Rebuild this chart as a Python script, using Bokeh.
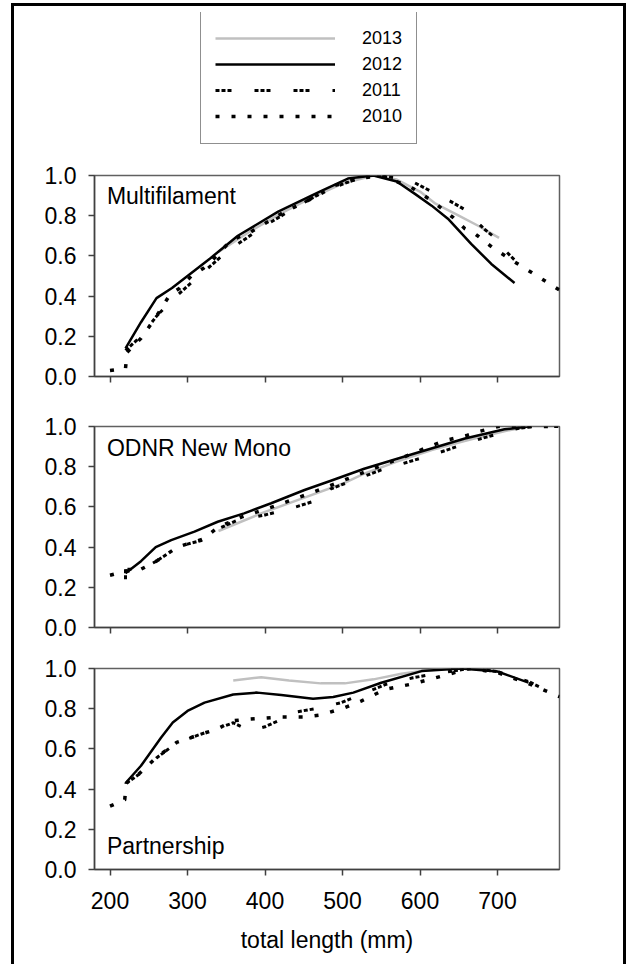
from bokeh.plotting import figure
from bokeh.models import (FixedTicker, NumeralTickFormatter, Label, Legend, LegendItem,
                          Range1d, Spacer)
from bokeh.layouts import column, row
from bokeh.embed import file_html
from bokeh.resources import INLINE

FONT = "Liberation Sans"

YEARS = ["2013", "2012", "2011", "2010"]
PANEL_NAMES = ["Multifilament", "ODNR New Mono", "Partnership"]
X_TICKS = [200, 300, 400, 500, 600, 700]
Y_TICKS = [0.0, 0.2, 0.4, 0.6, 0.8, 1.0]
X_TITLE = "total length (mm)"

# ---- Multifilament ----
MULTI_2013_X = [340, 380, 420, 460, 500, 540, 570, 600, 620, 650, 675, 702]
MULTI_2013_Y = [0.62, 0.72, 0.81, 0.89, 0.96, 1.0, 0.98, 0.92, 0.86, 0.80, 0.75, 0.69]
MULTI_2012_X = [220, 240, 260, 280, 300, 330, 365, 417, 468, 507, 540, 570, 593, 615, 636, 666, 692, 722]
MULTI_2012_Y = [0.14, 0.27, 0.39, 0.44, 0.50, 0.59, 0.70, 0.82, 0.915, 0.985, 1.0, 0.97, 0.91, 0.85, 0.785, 0.66, 0.56, 0.465]
MULTI_2011_X = [220, 240, 260, 280, 300, 343, 365, 404, 443, 481, 520, 545, 585, 615, 640, 658, 673, 684, 700, 709, 722]
MULTI_2011_Y = [0.13, 0.20, 0.30, 0.38, 0.45, 0.595, 0.66, 0.76, 0.85, 0.93, 0.985, 1.0, 0.98, 0.92, 0.87, 0.83, 0.77, 0.73, 0.68, 0.63, 0.58]
MULTI_2010_X = [200, 220, 222, 240, 260, 277, 290, 305, 320, 330, 356, 382, 421, 434, 468, 490, 520, 550, 589, 617, 643, 658, 671, 694, 722, 743, 780]
MULTI_2010_Y = [0.03, 0.04, 0.12, 0.19, 0.30, 0.405, 0.44, 0.50, 0.537, 0.57, 0.677, 0.72, 0.81, 0.835, 0.90, 0.95, 0.985, 1.0, 0.94, 0.87, 0.79, 0.735, 0.71, 0.64, 0.57, 0.52, 0.43]

# ---- ODNR New Mono ----
MONO_2013_X = [340, 400, 450, 500, 528, 570, 615, 650, 680, 710, 740]
MONO_2013_Y = [0.48, 0.575, 0.645, 0.715, 0.765, 0.825, 0.883, 0.92, 0.95, 0.978, 1.0]
MONO_2012_X = [220, 240, 259, 279, 309, 339, 373, 408, 451, 485, 528, 593, 658, 709, 740]
MONO_2012_Y = [0.27, 0.33, 0.40, 0.435, 0.477, 0.526, 0.568, 0.618, 0.684, 0.73, 0.79, 0.866, 0.94, 0.986, 1.0]
MONO_2011_X = [220, 220, 240, 260, 287, 300, 320, 339, 365, 400, 434, 468, 485, 550, 615, 679, 726, 745, 780]
MONO_2011_Y = [0.24, 0.29, 0.29, 0.33, 0.40, 0.415, 0.435, 0.49, 0.535, 0.56, 0.593, 0.634, 0.69, 0.784, 0.858, 0.94, 0.99, 1.0, 1.0]
MONO_2010_X = [200, 220, 240, 260, 287, 320, 340, 370, 417, 460, 500, 540, 580, 615, 632, 660, 675, 701, 780]
MONO_2010_Y = [0.26, 0.28, 0.29, 0.33, 0.40, 0.44, 0.50, 0.55, 0.61, 0.67, 0.73, 0.79, 0.85, 0.905, 0.93, 0.955, 0.974, 1.0, 1.0]

# ---- Partnership ----
PART_2013_X = [359, 395, 431, 472, 503, 540, 576, 607, 640]
PART_2013_Y = [0.94, 0.957, 0.94, 0.926, 0.926, 0.946, 0.974, 0.99, 1.0]
PART_2012_X = [221, 240, 266, 281, 300, 322, 359, 390, 421, 462, 488, 514, 550, 602, 653, 700, 740]
PART_2012_Y = [0.434, 0.516, 0.657, 0.731, 0.789, 0.83, 0.871, 0.88, 0.868, 0.85, 0.858, 0.88, 0.929, 0.987, 1.0, 0.985, 0.93]
PART_2011_X = [221, 240, 260, 286, 317, 338, 359, 380, 400, 420, 442, 472, 498, 524, 555, 591, 628, 664, 700, 740, 780]
PART_2011_Y = [0.43, 0.48, 0.555, 0.63, 0.673, 0.70, 0.73, 0.69, 0.71, 0.745, 0.785, 0.805, 0.83, 0.871, 0.92, 0.954, 0.979, 1.0, 0.985, 0.935, 0.86]
PART_2010_X = [200, 219, 221, 235, 260, 286, 317, 338, 359, 379, 421, 452, 472, 503, 524, 555, 591, 628, 664, 700, 740, 780]
PART_2010_Y = [0.315, 0.347, 0.43, 0.467, 0.558, 0.632, 0.673, 0.698, 0.74, 0.748, 0.759, 0.759, 0.769, 0.805, 0.838, 0.896, 0.924, 0.962, 1.0, 0.98, 0.925, 0.86]

PANELS = [
    {"2013": (MULTI_2013_X, MULTI_2013_Y), "2012": (MULTI_2012_X, MULTI_2012_Y),
     "2011": (MULTI_2011_X, MULTI_2011_Y), "2010": (MULTI_2010_X, MULTI_2010_Y)},
    {"2013": (MONO_2013_X, MONO_2013_Y), "2012": (MONO_2012_X, MONO_2012_Y),
     "2011": (MONO_2011_X, MONO_2011_Y), "2010": (MONO_2010_X, MONO_2010_Y)},
    {"2013": (PART_2013_X, PART_2013_Y), "2012": (PART_2012_X, PART_2012_Y),
     "2011": (PART_2011_X, PART_2011_Y), "2010": (PART_2010_X, PART_2010_Y)},
]

STYLE = {
    "2013": dict(line_color="#c0c0c0", line_width=2.5),
    "2012": dict(line_color="black", line_width=2.5),
    "2011": dict(line_color="black", line_width=3, line_dash="4 2 4 2 4 23"),
    "2010": dict(line_color="black", line_width=3.5, line_dash="4 12"),
}

W = 609
AXIS_COLOR = "#404040"
BORDERS = dict(min_border_left=80, min_border_right=64)


def style_axis(ax):
    ax.axis_line_color = AXIS_COLOR
    ax.axis_line_width = 1.5
    ax.major_tick_line_color = AXIS_COLOR
    ax.major_tick_line_width = 1.5
    ax.major_tick_in = 0
    ax.major_tick_out = 6
    ax.minor_tick_line_color = AXIS_COLOR
    ax.minor_tick_line_width = 1.5
    ax.minor_tick_in = 0
    ax.minor_tick_out = 6
    ax.major_label_text_font = FONT
    ax.major_label_text_font_size = "23px"
    ax.major_label_text_color = "black"
    ax.major_label_standoff = 12


def make_panel(idx, min_top, min_bottom, label_y, show_x_labels):
    height = min_top + 201 + min_bottom
    p = figure(width=W, height=height, x_range=Range1d(180, 780), y_range=Range1d(0, 1),
               output_backend="svg", toolbar_location=None,
               min_border_top=min_top, min_border_bottom=min_bottom, **BORDERS)
    p.grid.visible = False
    p.outline_line_color = "#606060"
    p.outline_line_width = 1.5
    p.background_fill_color = "white"
    p.border_fill_color = "white"
    for yr in YEARS:
        xs, ys = PANELS[idx][yr]
        p.line(xs, ys, line_join="round", **STYLE[yr])
    style_axis(p.xaxis[0])
    style_axis(p.yaxis[0])
    p.yaxis.ticker = FixedTicker(ticks=Y_TICKS, minor_ticks=[])
    p.yaxis.formatter = NumeralTickFormatter(format="0.0")
    if show_x_labels:
        p.xaxis.ticker = FixedTicker(ticks=X_TICKS, minor_ticks=[])
        p.xaxis.major_label_standoff = 16
        p.xaxis.axis_label = X_TITLE
        p.xaxis.axis_label_text_font = FONT
        p.xaxis.axis_label_text_font_size = "23px"
        p.xaxis.axis_label_text_font_style = "normal"
        p.xaxis.axis_label_text_color = "black"
        p.xaxis.axis_label_standoff = 15
    else:
        # ticks without labels: the tick positions are given as minor ticks
        p.xaxis.ticker = FixedTicker(ticks=[], minor_ticks=X_TICKS)
    p.add_layout(Label(x=196, y=label_y, text=PANEL_NAMES[idx], text_font=FONT,
                       text_font_size="23px", text_baseline="middle", text_color="black"))
    return p


# ---- legend figure (frame aligned with panels; its lines fall outside the visible y range) ----
leg = figure(width=W, height=150, x_range=Range1d(180, 780), y_range=Range1d(10, 11),
             output_backend="svg", toolbar_location=None,
             x_axis_type=None, y_axis_type=None,
             min_border_top=6, min_border_bottom=6, **BORDERS)
leg.grid.visible = False
leg.outline_line_color = None
items = []
for yr in YEARS:
    xs, ys = PANELS[0][yr]
    r = leg.line(xs, ys, **STYLE[yr])
    items.append(LegendItem(label=yr, renderers=[r]))
legend = Legend(items=items, location=(106, 6), margin=0, padding=14,
                glyph_width=120, glyph_height=26, spacing=0, label_standoff=27,
                label_height=26, label_text_font=FONT, label_text_font_size="18px",
                label_text_color="black", border_line_color="#202020", border_line_width=1.5,
                background_fill_alpha=0)
leg.add_layout(legend)

p1 = make_panel(0, 19, 25, 0.90, False)
p2 = make_panel(1, 25, 20, 0.893, False)
p3 = make_panel(2, 21, 95, 0.115, True)

inner = column(leg, p1, p2, p3, spacing=0,
               styles={"border-left": "3px solid black", "border-top": "3px solid black",
                       "border-right": "3px solid black", "background-color": "white"})
layout = column(Spacer(height=3, width=628), row(Spacer(width=11, height=10), inner, spacing=0), spacing=0)

open("out.html", "w").write(file_html(layout, INLINE))
